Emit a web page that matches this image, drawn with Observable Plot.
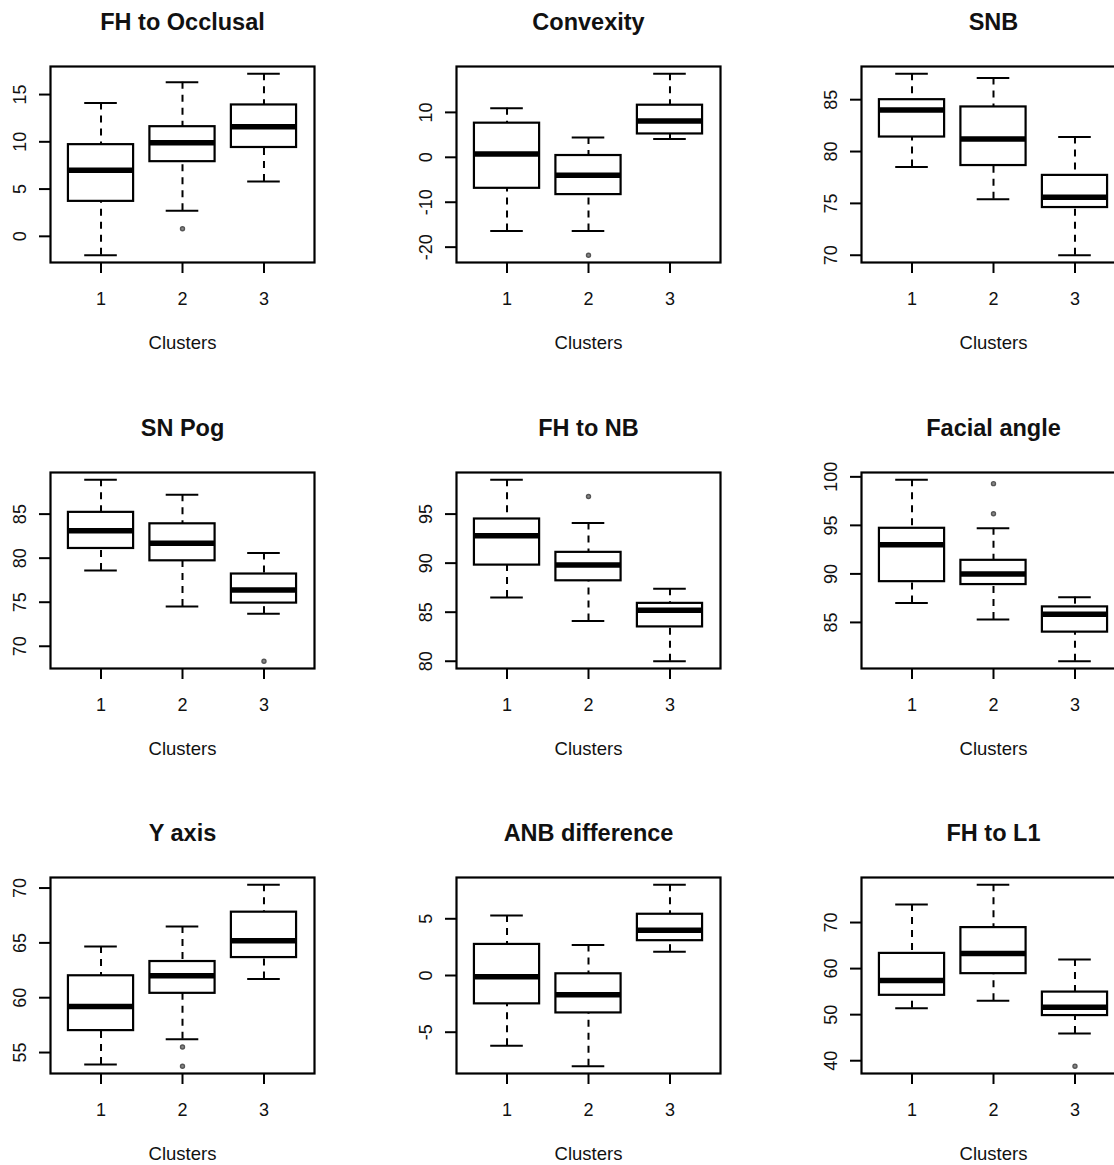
<!DOCTYPE html>
<html>
<head>
<meta charset="utf-8">
<script src="https://cdn.jsdelivr.net/npm/d3@7"></script>
<script src="https://cdn.jsdelivr.net/npm/@observablehq/plot@0.6"></script>
<style>
  html, body { margin: 0; padding: 0; background: #fff; overflow: hidden; }
  #wrap { position: relative; width: 1114px; height: 1165px; overflow: hidden; background: #fff; }
  .panel { position: absolute; width: 405px; height: 405px; }
</style>
</head>
<body>
<div id="wrap"></div>
<script>
// ---- data ----
const titles = ["FH to Occlusal", "Convexity", "SNB", "SN Pog", "FH to NB", "Facial angle", "Y axis", "ANB difference", "FH to L1"];
const clusters = [1, 2, 3];
const xLabel = "Clusters";
// per panel, per cluster: lower whisker, Q1, median, Q3, upper whisker
const loWhisker = [
  [-2.0, 2.7, 5.8], [-16.4, -16.4, 4.1], [78.5, 75.4, 70.0],
  [78.6, 74.5, 73.7], [86.5, 84.1, 80.0], [87.0, 85.3, 81.0],
  [53.9, 56.2, 61.7], [-6.2, -8.0, 2.1], [51.4, 53.0, 45.9]
];
const q1 = [
  [3.7, 7.9, 9.4], [-6.9, -8.3, 5.2], [81.4, 78.65, 74.6],
  [81.1, 79.7, 74.9], [89.8, 88.2, 83.5], [89.2, 88.9, 84.0],
  [57.0, 60.4, 63.66], [-2.5, -3.3, 3.07], [54.2, 58.9, 49.8]
];
const median = [
  [7.0, 9.9, 11.6], [0.75, -4.0, 8.1], [84.0, 81.2, 75.6],
  [83.1, 81.7, 76.4], [92.8, 89.8, 85.2], [93.0, 90.0, 85.85],
  [59.2, 62.0, 65.2], [-0.12, -1.7, 4.0], [57.4, 63.3, 51.6]
];
const q3 = [
  [9.7, 11.6, 13.9], [7.6, 0.4, 11.6], [85.0, 84.3, 77.7],
  [85.2, 83.9, 78.2], [94.5, 91.1, 85.9], [94.7, 91.4, 86.6],
  [62.0, 63.3, 67.8], [2.74, 0.15, 5.4], [63.3, 68.9, 54.9]
];
const hiWhisker = [
  [14.1, 16.3, 17.2], [10.9, 4.4, 18.6], [87.5, 87.1, 81.4],
  [88.9, 87.2, 80.6], [98.5, 94.1, 87.4], [99.7, 94.7, 87.6],
  [64.66, 66.5, 70.3], [5.3, 2.7, 8.0], [73.9, 78.2, 62.0]
];
// outliers: [cluster, value]
const outliers = [
  [[2, 0.8]], [[2, -21.8]], [],
  [[3, 68.3]], [[2, 96.8]], [[2, 99.3], [2, 96.2]],
  [[2, 55.5], [2, 53.75]], [], [[3, 38.8]]
];
const yTicks = [
  [0, 5, 10, 15], [-20, -10, 0, 10], [70, 75, 80, 85],
  [70, 75, 80, 85], [80, 85, 90, 95], [85, 90, 95, 100],
  [55, 60, 65, 70], [-5, 0, 5], [40, 50, 60, 70]
];

// ---- drawing ----
const font = "'Liberation Sans', Arial, Helvetica, sans-serif";
const ink = "#111";

function panel(i) {
  const data = clusters.map((g, j) => ({
    g, lo: loWhisker[i][j], q1: q1[i][j], med: median[i][j], q3: q3[i][j], hi: hiWhisker[i][j]
  }));
  const outs = outliers[i].map(([g, v]) => ({g, v}));
  const all = [...data.flatMap(d => [d.lo, d.hi]), ...outs.map(o => o.v)];
  const mn = d3.min(all), mx = d3.max(all), pad = (mx - mn) * 0.04;
  const txt = {fill: ink, textAnchor: "middle", lineAnchor: "middle"};
  return Plot.plot({
    width: 405, height: 405,
    marginLeft: 50, marginRight: 91, marginTop: 66, marginBottom: 143,
    x: {domain: [0.5 - 0.12, 3.5 + 0.12]},
    y: {domain: [mn - pad, mx + pad]},
    style: {fontFamily: font, fontSize: "18px", color: ink, background: "transparent", overflow: "visible"},
    marks: [
      Plot.ruleX(data, {x: "g", y1: "hi", y2: "q3", stroke: "#000", strokeWidth: 2, strokeDasharray: "7,6"}),
      Plot.ruleX(data, {x: "g", y1: "lo", y2: "q1", stroke: "#000", strokeWidth: 2, strokeDasharray: "7,6"}),
      Plot.ruleY(data, {y: "hi", x1: d => d.g - 0.2, x2: d => d.g + 0.2, stroke: "#000", strokeWidth: 2}),
      Plot.ruleY(data, {y: "lo", x1: d => d.g - 0.2, x2: d => d.g + 0.2, stroke: "#000", strokeWidth: 2}),
      Plot.rect(data, {x1: d => d.g - 0.4, x2: d => d.g + 0.4, y1: "q1", y2: "q3", fill: "#fff", stroke: "#000", strokeWidth: 2.2}),
      Plot.ruleY(data, {y: "med", x1: d => d.g - 0.4, x2: d => d.g + 0.4, stroke: "#000", strokeWidth: 5.5}),
      Plot.dot(outs, {x: "g", y: "v", r: 2, stroke: "#555", strokeWidth: 1.4, fill: "#888"}),
      Plot.frame({stroke: "#000", strokeWidth: 2.2}),
      Plot.axisY(yTicks[i], {tickSize: 11, tickFormat: () => "", stroke: "#000", strokeWidth: 2, label: null}),
      Plot.axisX(clusters, {tickSize: 11, tickFormat: () => "", stroke: "#000", strokeWidth: 2, label: null}),
      Plot.text(yTicks[i], {y: d => d, text: d => String(d), frameAnchor: "left", dx: -30, rotate: -90, fontSize: 18, ...txt}),
      Plot.text(clusters, {x: d => d, text: d => String(d), frameAnchor: "bottom", dy: 37, fontSize: 18, ...txt}),
      Plot.text([titles[i]], {text: d => d, frameAnchor: "top", dy: -44, fontSize: 23.5, fontWeight: "bold", ...txt}),
      Plot.text([xLabel], {text: d => d, frameAnchor: "bottom", dy: 81, fontSize: 18.5, ...txt})
    ]
  });
}

const wrap = document.getElementById("wrap");
titles.forEach((t, i) => {
  const col = i % 3, row = Math.floor(i / 3);
  const div = document.createElement("div");
  div.className = "panel";
  div.style.left = (col * 405.5) + "px";
  div.style.top = (row * 405.7) + "px";
  div.appendChild(panel(i));
  wrap.appendChild(div);
});
</script>
</body>
</html>
